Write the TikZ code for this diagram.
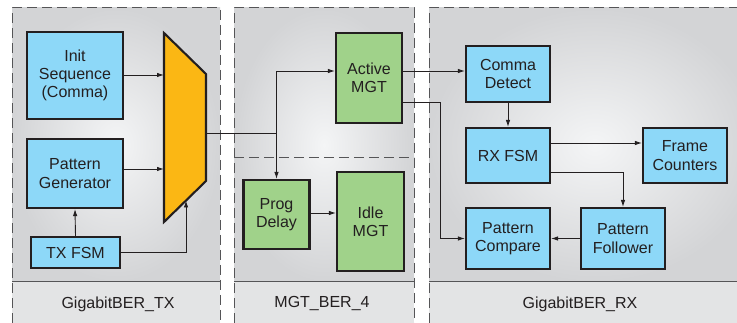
\documentclass[tikz,border=0pt]{standalone}
\usepackage{fontspec}
\setmainfont{Liberation Sans}
\usetikzlibrary{arrows.meta}

\definecolor{txtgray}{HTML}{231F20}
\definecolor{dashgray}{HTML}{555557}
\definecolor{blkblue}{HTML}{8DD8F8}
\definecolor{blkgreen}{HTML}{A0D28A}
\definecolor{muxorange}{HTML}{FBB714}
\definecolor{panelin}{HTML}{F4F5F6}
\definecolor{panelout}{HTML}{D3D4D6}
\definecolor{panelband}{HTML}{E3E4E5}

\begin{document}
\begin{tikzpicture}[x=1pt,y=-1pt]

    \tikzset{
      blk/.style={
        draw=txtgray,
        line width=2.1pt,
        text=txtgray,
        align=center,
        inner sep=0pt,
        font=\fontsize{16}{18.3}\selectfont,
      },
      bluebox/.style={blk,fill=blkblue},
      greenbox/.style={blk,fill=blkgreen},
      wire/.style={line width=0.9pt,draw=txtgray},
      arrowwire/.style={wire,-{Latex[length=7pt,width=4.5pt]}},
      panel/.style={draw=dashgray,line width=1pt,dash pattern=on 10pt off 5pt},
      sep/.style={draw=dashgray,line width=1pt},
      paneltitle/.style={text=txtgray,font=\fontsize{16}{18}\selectfont},
    }
    \useasboundingbox (0,0) rectangle (737,323);

    % panels
    \shade[inner color=panelin,outer color=panelout] (12,8) rectangle (220,282);
    \shade[inner color=panelin,outer color=panelout] (234,8) rectangle (414,282);
    \shade[inner color=panelin,outer color=panelout] (429,8) rectangle (760,282);
    \fill[panelband] (12,282) rectangle (220,323);
    \fill[panelband] (234,282) rectangle (414,323);
    \fill[panelband] (429,282) rectangle (737,323);
	\draw[panel] (12,323) -- (12,8) -- (220,8) -- (220,323);
	\draw[panel] (234,323) -- (234,8) -- (414,8) -- (414,323);
	\draw[panel] (429,323) -- (429,8) -- (740,8);
	\draw[panel] (234,158) -- (414,158);
	\draw[sep] (12,282) -- (220,282);
	\draw[sep] (234,282) -- (414,282);
	\draw[sep] (429,282) -- (737,282);
	\node[paneltitle] (txtitle) at (118,304) {GigabitBER\_TX};
	\node[paneltitle] (mgttitle) at (322,304) {MGT\_BER\_4};
	\node[paneltitle] (rxtitle) at (580,304) {GigabitBER\_RX};

    % transmitter
	\node[bluebox,minimum width=96pt,minimum height=87pt] (init) at (75,75.5) {Init\\Sequence\\(Comma)};
	\node[bluebox,minimum width=96pt,minimum height=69pt] (patgen) at (75,173.5) {Pattern\\Generator};
	\node[bluebox,minimum width=89pt,minimum height=31pt] (txfsm) at (75.5,252.5) {TX FSM};
	\draw[line width=2.1pt,draw=txtgray,fill=muxorange,line join=miter]
	  (164,33) -- (206,74) -- (206,181) -- (164,222) -- cycle;
	\coordinate (muxa) at (164,75);
	\coordinate (muxb) at (164,169);
	\coordinate (muxc) at (186,200.5);
	\coordinate (muxout) at (206,133);

    % MGT pair
	\node[greenbox,minimum width=66pt,minimum height=90pt] (active) at (369,78) {Active\\MGT};
	\node[greenbox,minimum width=66pt,minimum height=69pt] (prog) at (276.5,214.5) {Prog\\Delay};
	\node[greenbox,minimum width=67pt,minimum height=99pt] (idle) at (370.5,221.5) {Idle\\MGT};

    % receiver
	\node[bluebox,minimum width=84pt,minimum height=56pt] (comma) at (508,74) {Comma\\Detect};
	\node[bluebox,minimum width=84pt,minimum height=55pt] (rxfsm) at (508,155.5) {RX FSM};
	\node[bluebox,minimum width=84pt,minimum height=55pt] (frame) at (685,155.5) {Frame\\Counters};
	\node[bluebox,minimum width=84pt,minimum height=61pt] (follower) at (623,238.5) {Pattern\\Follower};
	\node[bluebox,minimum width=84pt,minimum height=61pt] (compare) at (508,238.5) {Pattern\\Compare};

	\draw[arrowwire] (init.east |- muxa) -- (muxa);
	\draw[arrowwire] (patgen.east |- muxb) -- (muxb);
	\draw[arrowwire] (txfsm.east) -| (muxc);
	\draw[arrowwire] (txfsm.north) -- (patgen.south);

	\coordinate (split) at (prog.north |- muxout);
	\draw[wire] (muxout) -- (split);
	\draw[arrowwire] (split) |- ([yshift=7pt]active.west);
	\draw[arrowwire] (split) -- (prog.north);
	\draw[arrowwire] (prog.east |- 0,213) -- (idle.west |- 0,213);

	\draw[arrowwire] ([yshift=7pt]active.east) coordinate (aout) -- (aout -| comma.west);
	\coordinate (rxtap) at (440,102);
	\draw[arrowwire] (active.east |- rxtap) -- (rxtap) |- (compare.west);
	\draw[arrowwire] (comma.south) -- (rxfsm.north);
	\draw[arrowwire] ([yshift=12.5pt]rxfsm.east) coordinate (rout) -- (rout -| frame.west);
	\draw[arrowwire] ([yshift=-16.5pt]rxfsm.east) -| (follower.north);
	\draw[arrowwire] (follower.west) -- (compare.east);

\end{tikzpicture}
\end{document}
